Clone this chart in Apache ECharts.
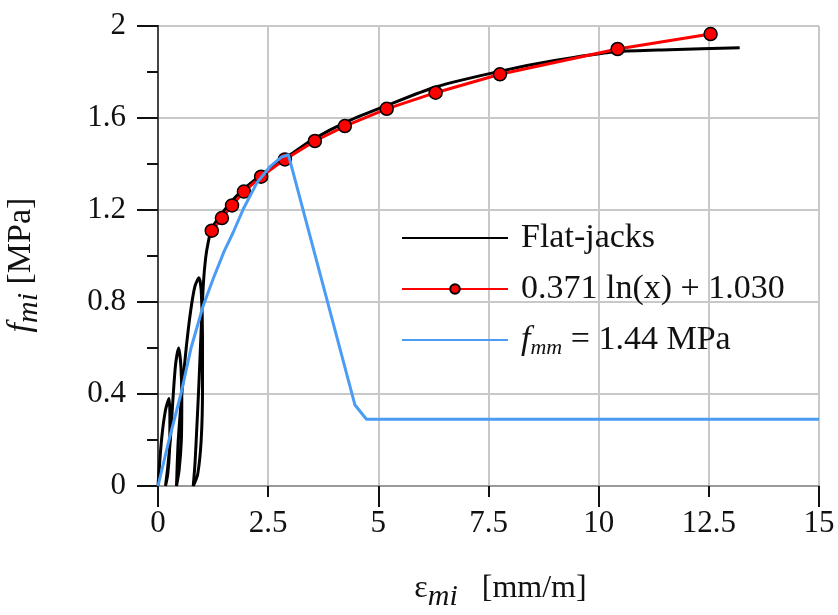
<!DOCTYPE html>
<html>
<head>
<meta charset="utf-8">
<script src="https://cdn.jsdelivr.net/npm/echarts/dist/echarts.min.js"></script>
<style>html,body{margin:0;padding:0;background:#fff}#c{width:838px;height:615px}</style>
</head>
<body>
<div id="c"></div>
<script>
// Flat-jacks curve (cyclic loops then envelope)
var fjX = [0, 0.08, 0.17, 0.25, 0.27, 0.26, 0.22, 0.17,
  0.22, 0.28, 0.34, 0.40, 0.47, 0.52, 0.54, 0.53, 0.48, 0.42,
  0.46, 0.55, 0.64, 0.74, 0.84, 0.93, 0.98, 1.01, 1.01, 0.98, 0.90, 0.80,
  0.84, 0.88, 0.93, 0.98, 1.03, 1.08, 1.14, 1.22, 1.45, 1.7, 2.0, 2.5, 3.0, 3.5, 4.3, 5.2, 6.3, 7.8, 9.0, 10.4, 11.6, 13.2];
var fjY = [0, 0.20, 0.33, 0.38, 0.30, 0.15, 0.05, 0,
  0.08, 0.20, 0.38, 0.53, 0.60, 0.52, 0.38, 0.20, 0.07, 0,
  0.20, 0.42, 0.60, 0.76, 0.87, 0.905, 0.85, 0.65, 0.42, 0.20, 0.05, 0,
  0.10, 0.25, 0.45, 0.68, 0.88, 0.99, 1.06, 1.12, 1.185, 1.245, 1.30, 1.375, 1.44, 1.505, 1.585, 1.655, 1.735, 1.805, 1.85, 1.888, 1.897, 1.905];
// Logarithmic fit points
var fitX = [1.22, 1.45, 1.68, 1.95, 2.34, 2.88, 3.56, 4.24, 5.19, 6.30, 7.76, 10.43, 12.54];
var fitY = [1.11, 1.165, 1.22, 1.28, 1.345, 1.42, 1.50, 1.565, 1.64, 1.71, 1.79, 1.90, 1.965];
// f_mm model curve
var fmmX = [0, 0.25, 0.52, 0.75, 1.02, 1.25, 1.5, 1.7, 1.95, 2.25, 2.55, 2.8, 2.96, 4.47, 4.73, 15];
var fmmY = [0, 0.20, 0.40, 0.60, 0.78, 0.90, 1.02, 1.10, 1.21, 1.32, 1.39, 1.43, 1.44, 0.352, 0.29, 0.29];
// Axis ticks
var xTicks = [0, 2.5, 5, 7.5, 10, 12.5, 15];
var yTicks = [0, 0.4, 0.8, 1.2, 1.6, 2];
var legendNames = ['Flat-jacks', '0.371 ln(x) + 1.030', 'fmm = 1.44 MPa'];

function pairs(xs, ys) { return xs.map(function (x, i) { return [x, ys[i]]; }); }

var FONT = 'Liberation Serif';
var C = '#111';
function richSet(size, sub, subPad) {
  return {
    it: {fontFamily: FONT, fontSize: size, fontStyle: 'italic', color: C},
    e: {fontFamily: FONT, fontSize: size, color: C},
    sub: {fontFamily: FONT, fontSize: sub, fontStyle: 'italic', color: C, verticalAlign: 'bottom', padding: [subPad, 0, 0, 0]},
    n: {fontFamily: FONT, fontSize: size, color: C}
  };
}
var chart = echarts.init(document.getElementById('c'), null, {renderer: 'canvas'});
chart.setOption({
  animation: false,
  backgroundColor: '#ffffff',
  textStyle: {fontFamily: FONT},
  grid: {left: 158, right: 19, top: 26, bottom: 129, containLabel: false, outerBoundsMode: 'none'},
  legend: {
    orient: 'vertical', left: 396, top: 216,
    itemWidth: 106, itemHeight: 12, itemGap: 17,
    data: [
      {name: legendNames[0], itemStyle: {opacity: 0}},
      {name: legendNames[1]},
      {name: legendNames[2], itemStyle: {opacity: 0}}
    ],
    textStyle: {
      fontFamily: FONT, fontSize: 34, color: C, padding: [0, 0, 0, 8],
      rich: richSet(34, 22, 16)
    },
    formatter: function (name) {
      if (name === legendNames[2]) return '{it|f}{sub|mm}{n| = 1.44 MPa}';
      return name;
    }
  },
  xAxis: [{
    type: 'value', min: 0, max: 15, interval: 2.5,
    name: '{e|ε}{sub|mi}{n|   [mm/m]}', nameLocation: 'middle', nameGap: 80,
    nameTextStyle: {fontFamily: FONT, fontSize: 32, color: C, padding: [0, 0, 0, 24], rich: richSet(32, 30, 16)},
    axisLine: {show: true, onZero: false, lineStyle: {color: '#999', width: 2}},
    axisTick: {show: true, length: 11, lineStyle: {color: C, width: 2}},
    axisLabel: {fontFamily: FONT, fontSize: 31, color: C, margin: 22,
      formatter: function (v) { return xTicks.indexOf(v) >= 0 ? String(v) : ''; }},
    splitLine: {show: true, lineStyle: {color: '#c8c8c8', width: 2}}
  }, {
    type: 'value', min: 0, max: 15, interval: 5, position: 'bottom',
    axisLine: {show: false},
    axisTick: {show: true, length: 21, lineStyle: {color: C, width: 2}},
    axisLabel: {show: false}, splitLine: {show: false}
  }],
  yAxis: [{
    type: 'value', min: 0, max: 2, interval: 0.4,
    name: '{it|f}{sub|mi}{n| [MPa]}', nameLocation: 'middle', nameGap: 114, nameRotate: 90,
    nameTextStyle: {fontFamily: FONT, fontSize: 34, color: C, padding: [0, 18, 0, 0], rich: richSet(34, 30, 16)},
    axisLine: {show: true, onZero: false, lineStyle: {color: C, width: 2}},
    axisTick: {show: true, length: 21, lineStyle: {color: C, width: 2}},
    minorTick: {show: true, splitNumber: 2, length: 11, lineStyle: {color: C, width: 2}},
    axisLabel: {fontFamily: FONT, fontSize: 31, color: C, margin: 32,
      formatter: function (v) { var s = Math.round(v * 10) / 10; return yTicks.indexOf(s) >= 0 ? String(s) : ''; }},
    splitLine: {show: true, lineStyle: {color: '#c8c8c8', width: 2}}
  }, {
    type: 'value', min: 0, max: 2, interval: 0.4, position: 'right',
    axisLine: {show: true, lineStyle: {color: '#444', width: 2}},
    axisTick: {show: false}, axisLabel: {show: false}, splitLine: {show: false}
  }],
  series: [{
    name: legendNames[0], type: 'line', data: pairs(fjX, fjY),
    showSymbol: false, symbol: 'none', smooth: 0.25,
    lineStyle: {color: '#000', width: 3}, itemStyle: {color: '#000'}, z: 2
  }, {
    name: legendNames[1], type: 'line', data: pairs(fitX, fitY),
    symbol: 'circle', symbolSize: 13, showSymbol: true,
    lineStyle: {color: '#ff0000', width: 3},
    itemStyle: {color: '#ff0000', borderColor: '#000', borderWidth: 1.5}, z: 3
  }, {
    name: legendNames[2], type: 'line', data: pairs(fmmX, fmmY),
    showSymbol: false, symbol: 'none',
    lineStyle: {color: '#4a9cf5', width: 3}, itemStyle: {color: '#4a9cf5'}, z: 4
  }]
});
</script>
</body>
</html>
